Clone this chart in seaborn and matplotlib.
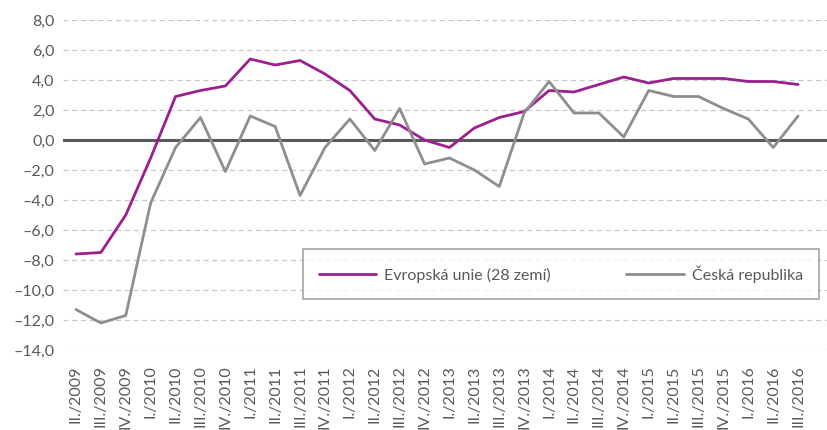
import matplotlib
matplotlib.use("Agg")
import matplotlib.pyplot as plt
import pandas as pd
import seaborn as sns

# quarters on the x-axis
quarters = ["II./2009", "III./2009", "IV./2009",
            "I./2010", "II./2010", "III./2010", "IV./2010",
            "I./2011", "II./2011", "III./2011", "IV./2011",
            "I./2012", "II./2012", "III./2012", "IV./2012",
            "I./2013", "II./2013", "III./2013", "IV./2013",
            "I./2014", "II./2014", "III./2014", "IV./2014",
            "I./2015", "II./2015", "III./2015", "IV./2015",
            "I./2016", "II./2016", "III./2016"]

eu = [-7.6, -7.5, -5.0, -1.2, 2.9, 3.3, 3.6, 5.4, 5.0, 5.3, 4.4, 3.3,
      1.4, 1.0, 0.0, -0.5, 0.8, 1.5, 1.9, 3.3, 3.2, 3.7, 4.2, 3.8,
      4.1, 4.1, 4.1, 3.9, 3.9, 3.7]
cz = [-11.3, -12.2, -11.7, -4.2, -0.5, 1.5, -2.1, 1.6, 0.9, -3.7, -0.5, 1.4,
      -0.7, 2.1, -1.6, -1.2, -2.0, -3.1, 1.8, 3.9, 1.8, 1.8, 0.2, 3.3,
      2.9, 2.9, 2.1, 1.4, -0.5, 1.6]

series_names = ["Evropská unie (28 zemí)", "Česká republika"]
series_colors = ["#9c1f8e", "#8e8e8e"]

yticks = [-14, -12, -10, -8, -6, -4, -2, 0, 2, 4, 6, 8]
ytick_labels = ["–14,0", "–12,0", "–10,0", "–8,0", "–6,0", "–4,0", "–2,0",
                "0,0", "2,0", "4,0", "6,0", "8,0"]

df = pd.concat([
    pd.DataFrame({"q": range(len(quarters)), "val": eu, "serie": series_names[0]}),
    pd.DataFrame({"q": range(len(quarters)), "val": cz, "serie": series_names[1]}),
])

sns.set_style("white")
plt.rcParams["font.family"] = ["Lato", "DejaVu Sans"]
txt = "#595959"

fig = plt.figure(figsize=(8.27, 4.30), dpi=100)
ax = fig.add_axes([63 / 827, 1 - 350 / 430, (827 - 63) / 827, 330 / 430])

# gridlines first so lines draw over them
for y in yticks:
    if y != 0:
        ax.axhline(y, color="#c8c8c8", lw=0.9, ls=(0, (4, 3)), zorder=0)
ax.axhline(0, color="#595959", lw=2.2, zorder=1)

sns.lineplot(data=df, x="q", y="val", hue="serie", palette=series_colors,
             linewidth=2.0, ax=ax, zorder=3)

ax.set_xlim(-0.52, 30.16)
ax.set_ylim(-14, 8)
ax.set_xticks(range(len(quarters)))
ax.set_xticklabels(quarters, rotation=90, va="top", ha="center")
ax.set_yticks(yticks)
ax.set_yticklabels(ytick_labels)
ax.tick_params(axis="both", length=0, labelsize=11.5, labelcolor=txt)
ax.tick_params(axis="x", pad=11)
ax.tick_params(axis="y", pad=6)
ax.set_xlabel("")
ax.set_ylabel("")
sns.despine(ax=ax, left=True, bottom=True)

# legend box spans x 303..819 px, y 249..299 px of the figure
leg = ax.legend(loc="center",
                bbox_to_anchor=((303 - 63) / 764, (350 - 299) / 330, 516 / 764, 50 / 330),
                mode="expand", borderaxespad=0,
                ncol=2, frameon=True, fontsize=11.5, handlelength=3.6,
                handletextpad=0.5, columnspacing=3.2, borderpad=1.0,
                fancybox=False)
leg.get_frame().set_edgecolor("#8e8e8e")
leg.get_frame().set_linewidth(1.2)
for t in leg.get_texts():
    t.set_color(txt)
leg.set_zorder(5)

fig.savefig("out.png", dpi=100)
